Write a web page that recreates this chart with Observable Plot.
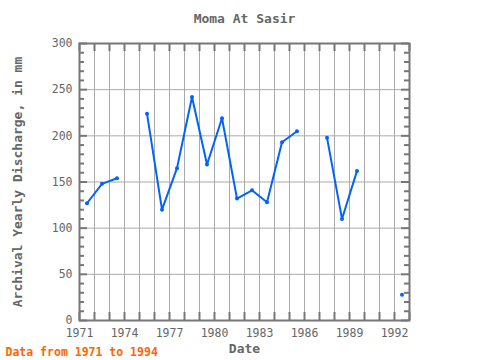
<!DOCTYPE html>
<html>
<head>
<meta charset="utf-8">
<script src="https://cdn.jsdelivr.net/npm/d3@7"></script>
<script src="https://cdn.jsdelivr.net/npm/@observablehq/plot@0.6"></script>
<style>
  body { margin: 0; background: #fff; }
  svg { display: block; }
</style>
</head>
<body>
<div id="chart"></div>
<script>
const years = [1971,1972,1973,1974,1975,1976,1977,1978,1979,1980,1981,1982,1983,1984,1985,1986,1987,1988,1989,1990,1991,1992];
const discharge = [127,148,154,null,224,120,165,242,169,219,132,141,128,193,205,null,198,110,162,null,null,28];
const xTickYears = d3.range(1971, 1994);
const xLabelYears = d3.range(1971, 1993, 3);
const yMajor = [0,50,100,150,200,250,300];
const yMinor = d3.range(0, 301, 10);

const data = years.map((y, i) => ({year: y + 0.5, value: discharge[i]}));

const W = 480, H = 360, mL = 79, mR = 71, mT = 43, mB = 40;
const fw = W - mL - mR, fh = H - mT - mB;
const axisColor = "#777";
const font = "DejaVu Sans Mono";

const chart = Plot.plot({
  width: W, height: H,
  marginLeft: mL, marginRight: mR, marginTop: mT, marginBottom: mB,
  style: {fontFamily: font, background: "#fff"},
  x: {domain: [1971, 1993]},
  y: {domain: [0, 300]},
  marks: [
    Plot.gridX(xTickYears, {stroke: "#aaa", strokeOpacity: 1, strokeWidth: 1}),
    Plot.gridY(yMajor, {stroke: "#aaa", strokeOpacity: 1, strokeWidth: 1}),
    Plot.tickX(xTickYears, {x: d => d, stroke: axisColor, strokeWidth: 2, insetTop: fh - 8}),
    Plot.tickX(xTickYears, {x: d => d, stroke: axisColor, strokeWidth: 2, insetBottom: fh - 8}),
    Plot.tickY(yMinor.filter(v => v % 50 !== 0), {y: d => d, stroke: axisColor, strokeWidth: 2, insetRight: fw - 5}),
    Plot.tickY(yMinor.filter(v => v % 50 !== 0), {y: d => d, stroke: axisColor, strokeWidth: 2, insetLeft: fw - 5}),
    Plot.tickY(yMajor, {y: d => d, stroke: axisColor, strokeWidth: 2, insetRight: fw - 8}),
    Plot.tickY(yMajor, {y: d => d, stroke: axisColor, strokeWidth: 2, insetLeft: fw - 8}),
    Plot.frame({stroke: axisColor, strokeWidth: 2}),
    Plot.axisX({ticks: xLabelYears, tickSize: 0, tickPadding: 8, tickFormat: d => String(d), fontSize: 11.5, fill: "#666", label: null}),
    Plot.axisY({ticks: yMajor, tickSize: 0, tickPadding: 7, fontSize: 11.5, fill: "#666", label: null}),
    Plot.line(data, {x: "year", y: "value", stroke: "#0062ff", strokeWidth: 2, defined: d => d.value != null}),
    Plot.dot(data.filter(d => d.value != null), {x: "year", y: "value", r: 2, fill: "#0062ff", stroke: null}),
    Plot.text(["Moma At Sasir"], {frameAnchor: "top", dy: -25, fontSize: 13, fill: "#666", fontWeight: "bold", lineAnchor: "middle"}),
    Plot.text(["Date"], {frameAnchor: "bottom", dy: 28, fontSize: 13, fill: "#666", fontWeight: "bold", lineAnchor: "middle"}),
    Plot.text(["Archival Yearly Discharge, in mm"], {frameAnchor: "left", dx: -62, rotate: -90, fontSize: 13, fill: "#666", fontWeight: "bold", textAnchor: "middle", lineAnchor: "middle"}),
    Plot.text(["Data from 1971 to 1994"], {frameAnchor: "bottom-left", dx: -74, dy: 32, fontSize: 11.5, fill: "#ff6600", fontWeight: "bold", textAnchor: "start", lineAnchor: "middle"})
  ]
});
document.getElementById("chart").appendChild(chart);
</script>
</body>
</html>
